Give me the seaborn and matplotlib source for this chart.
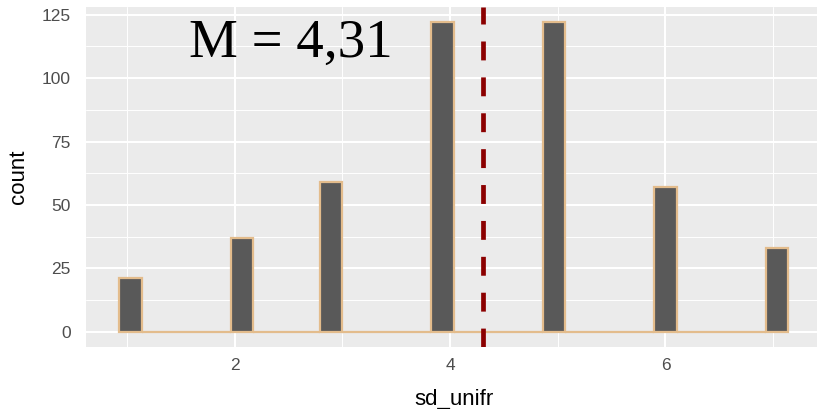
import math
import numpy as np
import pandas as pd
import matplotlib
matplotlib.use("Agg")
import matplotlib.pyplot as plt
import seaborn as sns

# data
values = [1, 2, 3, 4, 5, 6, 7]
counts = [21, 37, 59, 122, 122, 57, 33]
mean_value = 4.31
mean_label = "M = 4,31"
x_ticks = [2, 4, 6]
y_ticks = [0, 25, 50, 75, 100, 125]
x_title = "sd_unifr"
y_title = "count"

df = pd.DataFrame({"sd_unifr": values, "n": counts})

sns.set_theme(style="darkgrid")
plt.rcParams["font.family"] = ["Liberation Sans", "DejaVu Sans"]

fig = plt.figure(figsize=(8.17, 4.09), dpi=100)
ax = fig.add_axes([0.1053, 0.1516, 0.9002, 0.8314])
ax.set_facecolor("#EBEBEB")

# ggplot2-style binning (bins = 30, boundary = width / 2, right-closed)
nbins = 30
w = (max(values) - min(values)) / (nbins - 1)
boundary = w / 2
origin = boundary + math.floor((min(values) - boundary) / w) * w
eps = 1e-9
lo = origin
hi = origin + nbins * w
sns.histplot(data=df, x="sd_unifr", weights="n", bins=nbins,
             binrange=(lo + eps, hi + eps),
             color="#595959", edgecolor="#E3BC8C", linewidth=1.6, alpha=1,
             ax=ax, zorder=3)

ax.axvline(mean_value, color="#8B0000", lw=3.4, dashes=(4, 3.6), zorder=4)

ax.text(2.52, 108.5, mean_label, family=["Liberation Serif", "DejaVu Serif"],
        fontsize=39.5, ha="center", va="baseline", color="black", zorder=5)

pad = (hi - lo) * 0.05
ax.set_xlim(lo - pad, hi + pad)
ymax = max(counts)
ax.set_ylim(-0.05 * ymax, ymax * 1.05)

ax.set_xticks(x_ticks)
ax.set_yticks(y_ticks)
ax.set_xticks([1, 3, 5, 7], minor=True)
ax.set_yticks([12.5, 37.5, 62.5, 87.5, 112.5], minor=True)
ax.grid(which="major", color="white", lw=1.5, zorder=0)
ax.grid(which="minor", color="white", lw=0.7, zorder=0)
ax.set_axisbelow(True)
for s in ax.spines.values():
    s.set_visible(False)

ax.tick_params(axis="both", which="major", length=4, width=1.2, color="#333333",
               labelsize=12.5, labelcolor="#4D4D4D", pad=4)
ax.tick_params(axis="y", which="major", pad=7)
ax.tick_params(axis="both", which="minor", length=0)
ax.set_xlabel(x_title, fontsize=16, color="black", labelpad=11.5)
ax.set_ylabel(y_title, fontsize=16, color="black", labelpad=9)

fig.savefig("out.png", dpi=100)
